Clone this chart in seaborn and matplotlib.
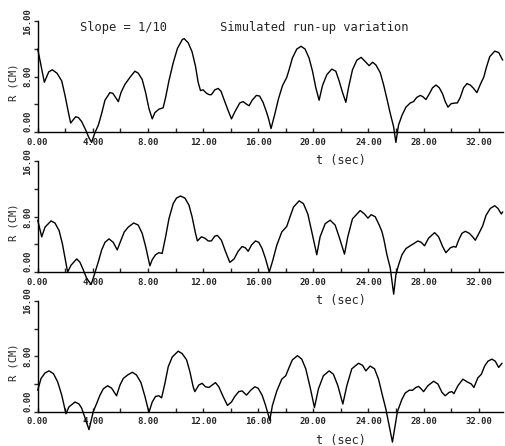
import numpy as np
import pandas as pd
import seaborn as sns
import matplotlib
matplotlib.use("Agg")
import matplotlib.pyplot as plt

# ========= data: (t sec, R cm) =========
panel1 = [
    (0, 12.0), (0.48, 7.2), (0.8, 8.7), (1.06, 9.0), (1.4, 8.5), (1.74, 7.4), (1.98, 5.3),
    (2.22, 2.9), (2.39, 1.3), (2.75, 2.2), (2.95, 2.1), (3.19, 1.5), (3.48, 0.3), (3.72, -0.85),
    (3.91, -1.5), (4.15, -0.1), (4.4, 1.0), (4.64, 2.7), (4.88, 4.6), (5.24, 5.7), (5.45, 5.6),
    (5.65, 5.0), (5.85, 4.4), (6.04, 5.7), (6.33, 6.9), (6.69, 7.9), (7.05, 8.8), (7.3, 8.5),
    (7.58, 7.6), (7.83, 5.7), (8.07, 3.4), (8.31, 1.9), (8.5, 2.8), (8.79, 3.3), (9.1, 3.5),
    (9.28, 5.0), (9.52, 7.4), (9.83, 10.0), (10.14, 12.1), (10.5, 13.4), (10.63, 13.5),
    (10.92, 12.9), (11.2, 11.6), (11.45, 9.5), (11.64, 7.2), (11.81, 6.0), (12.0, 6.1),
    (12.25, 5.6), (12.45, 5.4), (12.6, 5.4), (12.85, 6.1), (13.1, 6.3), (13.3, 5.9), (13.5, 4.8),
    (13.8, 3.2), (14.06, 1.9), (14.3, 2.9), (14.66, 4.2), (14.9, 4.4), (15.1, 4.1), (15.34, 3.8),
    (15.56, 4.6), (15.87, 5.3), (16.1, 5.2), (16.35, 4.3), (16.6, 2.9), (16.74, 2.0), (16.93, 0.5),
    (17.18, 2.4), (17.47, 4.8), (17.76, 6.7), (18.07, 7.9), (18.24, 9.0), (18.48, 10.7),
    (18.8, 12.0), (19.11, 12.4), (19.4, 12.0), (19.69, 10.7), (19.94, 8.8), (20.18, 6.4),
    (20.42, 4.6), (20.66, 6.7), (20.98, 8.3), (21.34, 9.1), (21.63, 8.8), (21.87, 7.4),
    (22.12, 5.7), (22.36, 4.3), (22.55, 6.4), (22.84, 9.0), (23.16, 10.4), (23.47, 10.8),
    (23.76, 10.2), (24.05, 9.6), (24.3, 10.1), (24.54, 9.7), (24.85, 8.6), (25.09, 6.9),
    (25.34, 4.8), (25.58, 2.7), (25.82, 0.8), (25.99, -1.5), (26.18, 1.0), (26.43, 2.4),
    (26.72, 3.6), (27.03, 4.2), (27.27, 4.4), (27.5, 5.0), (27.76, 5.3), (27.95, 5.1),
    (28.17, 4.7), (28.41, 5.5), (28.65, 6.4), (28.9, 6.8), (29.14, 6.4), (29.38, 5.5),
    (29.57, 4.4), (29.77, 3.6), (30.0, 4.1), (30.3, 4.2), (30.45, 4.2), (30.66, 5.0), (30.9, 6.4),
    (31.15, 7.0), (31.39, 6.8), (31.63, 6.3), (31.87, 5.7), (32.12, 6.9), (32.36, 7.9),
    (32.55, 9.3), (32.8, 10.9), (33.16, 11.7), (33.45, 11.5), (33.74, 10.4),
]

panel2 = [
    (0, 7.5), (0.29, 5.1), (0.53, 6.5), (0.97, 7.4), (1.25, 7.1), (1.55, 6.0), (1.79, 4.1),
    (2.03, 1.5), (2.17, 0.0), (2.42, 1.0), (2.83, 1.9), (3.07, 1.4), (3.31, 0.3), (3.55, -0.9),
    (3.88, -1.8), (4.15, -0.1), (4.4, 1.5), (4.64, 3.2), (4.88, 4.3), (5.17, 4.8), (5.48, 4.3),
    (5.77, 3.2), (6.04, 4.6), (6.28, 5.8), (6.57, 6.5), (6.96, 7.1), (7.29, 6.8), (7.58, 5.6),
    (7.83, 3.7), (8.14, 0.9), (8.31, 1.8), (8.55, 2.5), (8.79, 2.8), (9.03, 2.7), (9.28, 5.1),
    (9.52, 7.7), (9.83, 9.9), (10.07, 10.7), (10.36, 11.0), (10.68, 10.7), (10.97, 9.7),
    (11.2, 8.0), (11.45, 5.6), (11.59, 4.5), (11.88, 5.1), (12.13, 4.9), (12.37, 4.5),
    (12.6, 4.5), (12.85, 5.2), (13.04, 5.3), (13.33, 4.6), (13.62, 3.0), (13.94, 1.4),
    (14.25, 1.9), (14.54, 3.0), (14.83, 3.7), (15.07, 3.5), (15.27, 3.0), (15.51, 3.9),
    (15.8, 4.5), (16.04, 4.3), (16.28, 3.4), (16.52, 2.0), (16.8, 0.0), (17.03, 1.5),
    (17.35, 3.9), (17.71, 5.8), (18.07, 6.6), (18.31, 8.0), (18.56, 9.4), (18.97, 10.3),
    (19.28, 9.9), (19.6, 8.4), (19.89, 5.8), (20.25, 2.5), (20.49, 5.1), (20.86, 7.0),
    (21.22, 7.5), (21.58, 6.8), (21.87, 5.1), (22.26, 2.6), (22.5, 5.1), (22.84, 7.7),
    (23.4, 8.9), (23.71, 8.4), (23.96, 7.8), (24.2, 8.3), (24.49, 8.0), (24.78, 6.8),
    (24.97, 5.9), (25.1, 4.9), (25.34, 2.5), (25.58, 0.6), (25.83, -3.2), (25.99, -0.4),
    (26.18, 1.0), (26.43, 2.5), (26.72, 3.4), (27.03, 3.8), (27.27, 4.1), (27.59, 4.5),
    (27.83, 4.3), (28.07, 3.8), (28.36, 4.9), (28.8, 5.7), (29.09, 5.1), (29.38, 3.7),
    (29.62, 2.8), (29.94, 3.5), (30.18, 3.7), (30.35, 3.6), (30.54, 4.6), (30.78, 5.6),
    (31.03, 5.9), (31.32, 5.6), (31.56, 5.1), (31.75, 4.6), (32.04, 5.7), (32.29, 6.7),
    (32.53, 8.2), (32.84, 9.2), (33.16, 9.6), (33.4, 9.2), (33.64, 8.4), (33.74, 8.7),
]

panel3 = [
    (0, 3.1), (0.24, 4.8), (0.53, 5.6), (0.82, 5.9), (1.14, 5.5), (1.45, 4.3), (1.74, 2.4),
    (2.05, -0.3), (2.27, 0.7), (2.71, 1.4), (3.0, 1.1), (3.19, 0.5), (3.38, -0.6), (3.72, -2.6),
    (4.03, 0.0), (4.28, 1.2), (4.52, 2.4), (4.76, 3.3), (5.07, 3.75), (5.36, 3.4), (5.72, 2.3),
    (5.97, 3.85), (6.21, 4.8), (6.52, 5.3), (6.86, 5.7), (7.17, 5.3), (7.49, 4.2), (7.78, 2.2),
    (8.07, -0.1), (8.31, 1.4), (8.55, 2.2), (8.79, 2.3), (8.99, 2.0), (9.23, 4.1), (9.47, 6.5),
    (9.76, 7.9), (10.19, 8.75), (10.48, 8.4), (10.8, 7.5), (11.04, 5.8), (11.28, 3.6),
    (11.4, 2.9), (11.69, 3.85), (11.93, 4.1), (12.17, 3.6), (12.42, 3.5), (12.66, 3.85),
    (12.9, 4.2), (13.14, 3.6), (13.45, 2.2), (13.77, 0.9), (14.06, 1.4), (14.3, 2.2),
    (14.59, 2.9), (14.83, 3.0), (15.15, 2.4), (15.46, 3.1), (15.75, 3.6), (15.99, 3.4),
    (16.28, 2.4), (16.52, 1.0), (16.84, -1.2), (17.03, 0.9), (17.35, 3.0), (17.71, 4.7),
    (18.0, 5.2), (18.24, 6.4), (18.48, 7.5), (18.85, 8.1), (19.16, 7.6), (19.45, 6.2),
    (19.77, 3.5), (20.08, 0.6), (20.37, 3.3), (20.73, 5.2), (21.15, 5.9), (21.46, 5.4),
    (21.78, 3.75), (22.14, 1.1), (22.43, 3.75), (22.79, 6.2), (23.28, 7.0), (23.57, 6.7),
    (23.81, 5.9), (24.12, 6.6), (24.44, 6.2), (24.73, 4.7), (25.02, 2.3), (25.26, 0.4),
    (25.74, -4.4), (26.1, 0.0), (26.43, 1.8), (26.67, 2.7), (26.96, 3.1), (27.2, 3.1),
    (27.44, 3.5), (27.64, 3.65), (27.82, 3.3), (28.0, 2.9), (28.31, 3.75), (28.73, 4.4),
    (29.04, 4.0), (29.33, 2.8), (29.57, 2.3), (29.86, 2.8), (30.05, 2.9), (30.2, 2.6),
    (30.49, 3.75), (30.85, 4.7), (31.17, 4.3), (31.46, 4.0), (31.65, 3.5), (31.94, 4.9),
    (32.19, 5.4), (32.43, 6.6), (32.67, 7.3), (32.96, 7.6), (33.2, 7.3), (33.45, 6.4),
    (33.69, 7.0),
]

x_ticks = [0, 4, 8, 12, 16, 20, 24, 28, 32]
y_ticks = [0, 8, 16]
title_left = "Slope = 1/10"
title_right = "Simulated run-up variation"
# ==========================================================

sns.set_style("ticks")
plt.rcParams['font.family'] = ['DejaVu Sans Mono', 'DejaVu Sans']

fig = plt.figure(figsize=(5.05, 4.46), dpi=100)
bottoms = [0.704, 0.390, 0.077]

for pts, b in zip([panel1, panel2, panel3], bottoms):
    ax = fig.add_axes([0.0747, b, 0.921, 0.248])
    ax.patch.set_alpha(0)  # so the x label of the panel above stays visible
    df = pd.DataFrame(pts, columns=["t", "R"])
    sns.lineplot(data=df, x="t", y="R", ax=ax, color="black", lw=1.0,
                 sort=False, estimator=None, clip_on=False)
    ax.set_xlim(0, 33.75)
    ax.set_ylim(0, 16)
    sns.despine(ax=ax)
    for s in ["left", "bottom"]:
        ax.spines[s].set_linewidth(1.0)
        ax.spines[s].set_color("black")

    ax.set_xticks(x_ticks)
    ax.set_xticklabels([f"{v:.2f}" for v in x_ticks], fontsize=6.5, fontweight="bold")
    ax.set_xticks(np.arange(2, 34, 4), minor=True)
    ax.set_yticks(y_ticks)
    ylabels = ax.set_yticklabels([f"{v:.2f}" for v in y_ticks], fontsize=6.5,
                                 fontweight="bold", rotation=90, va="center")
    ylabels[0].set_va("bottom")  # 0.00 sits above the zero line, clear of the x label
    ax.set_yticks([4, 12], minor=True)
    ax.tick_params(axis="x", which="both", direction="in", length=3, width=1, pad=4)
    ax.tick_params(axis="y", which="both", direction="out", length=3, width=1, pad=1)

    ax.set_xlabel("t (sec)", fontsize=8.5)
    ax.xaxis.set_label_coords(0.652, -0.2)
    ax.set_ylabel("R (CM)", fontsize=7.5)
    ax.yaxis.set_label_coords(-0.042, 0.45)

fig.text(80 / 505, 1 - 27 / 446, title_left, fontsize=8.7, va="center")
fig.text(220 / 505, 1 - 27 / 446, title_right, fontsize=8.7, va="center")

fig.savefig("out.png", dpi=100)
